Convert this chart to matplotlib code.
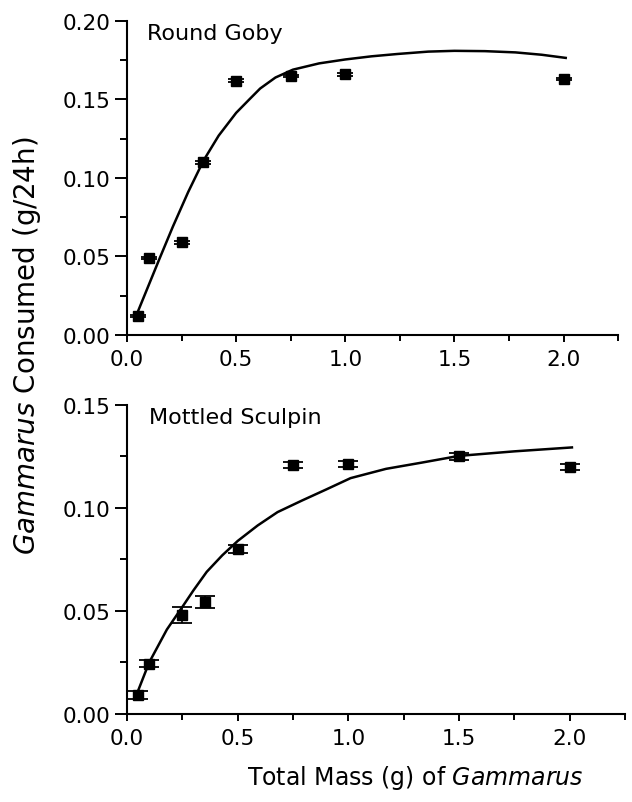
import numpy as np
import matplotlib
matplotlib.use('Agg')
import matplotlib.pyplot as plt
from matplotlib.ticker import MultipleLocator

plt.rcParams['font.family'] = ['DejaVu Sans']
plt.rcParams['mathtext.fontset'] = 'dejavusans'

# Round Goby
goby_x = [0.05, 0.10, 0.25, 0.35, 0.50, 0.75, 1.00, 2.00]
goby_y = [0.012, 0.049, 0.059, 0.110, 0.162, 0.165, 0.166, 0.163]
goby_err = [0.0008, 0.0008, 0.0008, 0.0008, 0.0008, 0.0008, 0.0008, 0.0008]
goby_fit_x = [0.05, 0.10, 0.15, 0.21, 0.28, 0.35, 0.42, 0.50, 0.56, 0.61, 0.68, 0.76, 0.88, 1.00,
              1.12, 1.24, 1.38, 1.50, 1.64, 1.78, 1.90, 2.01]
goby_fit_y = [0.015, 0.032, 0.049, 0.069, 0.091, 0.111, 0.127, 0.1415, 0.150, 0.157, 0.164, 0.169,
              0.173, 0.1755, 0.1775, 0.179, 0.1805, 0.181, 0.1808, 0.180, 0.1785, 0.1765]

# Mottled Sculpin
sculpin_x = [0.05, 0.10, 0.25, 0.35, 0.50, 0.75, 1.00, 1.50, 2.00]
sculpin_y = [0.0094, 0.0243, 0.048, 0.0545, 0.080, 0.1209, 0.1214, 0.125, 0.120]
sculpin_err = [0.002, 0.0017, 0.0037, 0.003, 0.002, 0.0015, 0.0015, 0.0015, 0.0015]
sculpin_fit_x = [0.05, 0.10, 0.14, 0.18, 0.25, 0.30, 0.36, 0.43, 0.50, 0.59, 0.68, 0.79, 0.90,
                 1.01, 1.17, 1.33, 1.50, 1.75, 2.01]
sculpin_fit_y = [0.0113, 0.025, 0.033, 0.041, 0.052, 0.060, 0.069, 0.077, 0.084, 0.0915, 0.098,
                 0.1036, 0.109, 0.1145, 0.119, 0.122, 0.1253, 0.1275, 0.1294]

fig = plt.figure(figsize=(6.32, 8.03), dpi=100)
ax1 = fig.add_axes([0.201, 0.5816, 0.777, 0.391])
ax2 = fig.add_axes([0.201, 0.1096, 0.788, 0.3848])


def style(ax, ymax, ystep):
    ax.set_xlim(0, 2.25)
    ax.set_ylim(0, ymax)
    ax.spines['top'].set_visible(False)
    ax.spines['right'].set_visible(False)
    for s in ['left', 'bottom']:
        ax.spines[s].set_linewidth(1.5)
    ax.xaxis.set_major_locator(MultipleLocator(0.5))
    ax.xaxis.set_minor_locator(MultipleLocator(0.25))
    ax.yaxis.set_major_locator(MultipleLocator(ystep))
    ax.yaxis.set_minor_locator(MultipleLocator(ystep / 2))
    ax.xaxis.set_major_formatter(plt.FormatStrFormatter('%.1f'))
    ax.yaxis.set_major_formatter(plt.FormatStrFormatter('%.2f'))
    ax.tick_params(which='both', direction='out', width=1.4, labelsize=15.5)
    ax.tick_params(axis='x', which='major', length=5, pad=5)
    ax.tick_params(axis='x', which='minor', length=4)
    ax.tick_params(axis='y', which='major', length=8.5, pad=3.5)
    ax.tick_params(axis='y', which='minor', length=5)


style(ax1, 0.20, 0.05)
style(ax2, 0.15, 0.05)

ax1.plot(goby_fit_x, goby_fit_y, color='black', lw=1.8)
ax1.errorbar(goby_x, goby_y, yerr=goby_err, fmt='s', color='black', ms=7.5,
             capsize=6, elinewidth=1.2, capthick=1.3)
ax1.text(0.041, 0.995, 'Round Goby', transform=ax1.transAxes, fontsize=16, va='top', ha='left')

ax2.plot(sculpin_fit_x, sculpin_fit_y, color='black', lw=1.8)
ax2.errorbar(sculpin_x, sculpin_y, yerr=sculpin_err, fmt='s', color='black', ms=7.5,
             capsize=7, elinewidth=1.2, capthick=1.3)
ax2.text(0.045, 0.995, 'Mottled Sculpin', transform=ax2.transAxes, fontsize=16, va='top', ha='left')

fig.text(0.043, 0.570, r'$\mathit{Gammarus}$ Consumed (g/24h)', rotation=90,
         fontsize=20, ha='center', va='center')
fig.text(0.657, 0.031, r'Total Mass (g) of $\mathit{Gammarus}$', fontsize=17,
         ha='center', va='center')

fig.savefig('out.png', dpi=100)
